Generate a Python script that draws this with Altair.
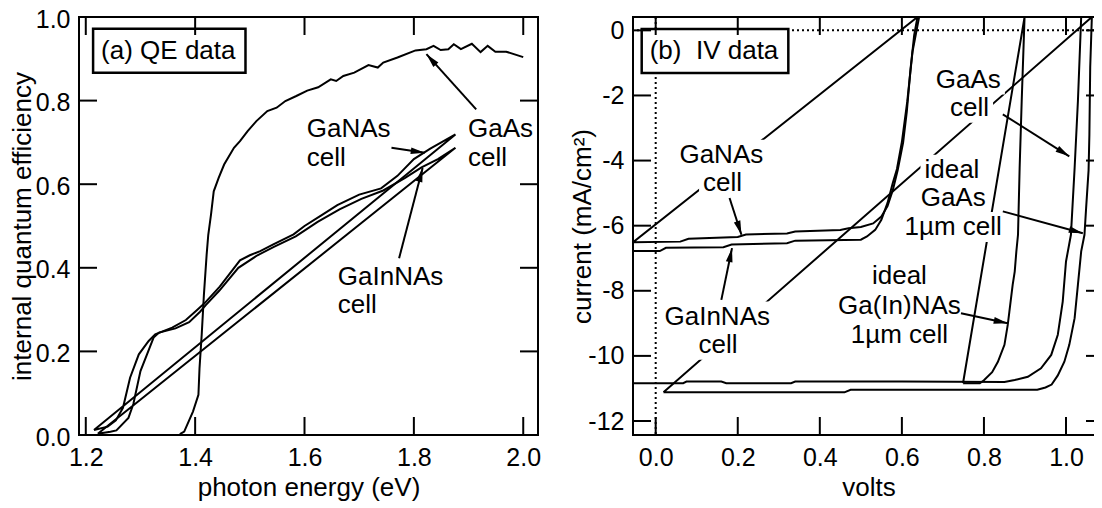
import math
import altair as alt
import pandas as pd

FONT = "Liberation Sans"
FS = 26

# ---------------- panel (a): QE data ----------------
gaas_qe_e = [1.372, 1.380, 1.396, 1.406, 1.408, 1.412, 1.416, 1.421, 1.424, 1.429, 1.434, 1.443,
             1.453, 1.471, 1.482, 1.496, 1.512, 1.532, 1.549, 1.565, 1.585, 1.605, 1.625, 1.648,
             1.658, 1.671, 1.691, 1.717, 1.734, 1.744, 1.770, 1.803, 1.823, 1.836, 1.849, 1.863,
             1.873, 1.886, 1.906, 1.922, 1.935, 1.949, 1.969, 2.000]
gaas_qe_q = [0.002, 0.008, 0.056, 0.096, 0.160, 0.240, 0.335, 0.431, 0.479, 0.527, 0.583, 0.615,
             0.647, 0.687, 0.703, 0.727, 0.751, 0.775, 0.783, 0.799, 0.811, 0.824, 0.832, 0.851,
             0.847, 0.859, 0.867, 0.885, 0.879, 0.891, 0.903, 0.920, 0.923, 0.931, 0.921, 0.923,
             0.935, 0.923, 0.936, 0.916, 0.931, 0.917, 0.917, 0.904]

ganas_qe_e = [1.215, 1.240, 1.255, 1.268, 1.281, 1.297, 1.315, 1.327, 1.358, 1.383, 1.402, 1.417,
              1.445, 1.482, 1.500, 1.519, 1.543, 1.580, 1.600, 1.630, 1.660, 1.700, 1.740, 1.770,
              1.800, 1.830, 1.876]
ganas_qe_q = [0.012, 0.020, 0.035, 0.065, 0.137, 0.193, 0.225, 0.241, 0.257, 0.275, 0.297, 0.315,
              0.355, 0.418, 0.430, 0.440, 0.456, 0.480, 0.500, 0.525, 0.550, 0.575, 0.590, 0.620,
              0.660, 0.685, 0.719]

gainnas_qe_e = [1.222, 1.245, 1.256, 1.278, 1.287, 1.300, 1.312, 1.324, 1.334, 1.364, 1.389, 1.409,
                1.419, 1.444, 1.479, 1.514, 1.544, 1.584, 1.624, 1.664, 1.704, 1.744, 1.784, 1.814,
                1.844, 1.876]
gainnas_qe_q = [0.003, 0.008, 0.011, 0.041, 0.074, 0.153, 0.193, 0.233, 0.245, 0.255, 0.270, 0.295,
                0.310, 0.345, 0.400, 0.430, 0.450, 0.475, 0.510, 0.540, 0.565, 0.585, 0.615, 0.640,
                0.660, 0.687]

# ---------------- panel (b): IV data ----------------
ganas_iv_v = [-0.055, 0.06, 0.08, 0.20, 0.22, 0.32, 0.34, 0.45, 0.47, 0.50, 0.53, 0.55, 0.565,
              0.578, 0.59, 0.603, 0.612, 0.621, 0.63, 0.638]
ganas_iv_i = [-6.51, -6.49, -6.40, -6.35, -6.27, -6.24, -6.18, -6.13, -6.08, -6.04, -5.93, -5.72,
              -5.40, -4.90, -4.28, -3.45, -2.50, -1.20, -0.15, 0.41]

gainnas_iv_v = [-0.055, 0.01, 0.025, 0.165, 0.185, 0.32, 0.34, 0.50, 0.515, 0.535, 0.55, 0.565,
                0.578, 0.588, 0.60, 0.613, 0.626, 0.642]
gainnas_iv_i = [-6.78, -6.78, -6.68, -6.66, -6.58, -6.54, -6.46, -6.43, -6.33, -6.13, -5.82, -5.30,
                -4.68, -4.26, -3.43, -2.20, -0.65, 0.41]

gaas_iv_v = [-0.055, 0.067, 0.075, 0.16, 0.172, 0.33, 0.34, 0.60, 0.85, 0.875, 0.907, 0.939, 0.964,
             0.980, 0.992, 1.000, 1.012, 1.021, 1.029, 1.037]
gaas_iv_i = [-10.84, -10.84, -10.79, -10.79, -10.84, -10.84, -10.79, -10.79, -10.80, -10.74,
             -10.64, -10.38, -9.97, -9.35, -8.33, -7.10, -6.28, -4.23, -2.18, 0.41]

ideal_gaas_v = [0.019, 0.46, 0.475, 0.93, 0.95, 0.965, 0.98, 0.996, 1.008, 1.021, 1.029, 1.037,
                1.045, 1.049, 1.055, 1.057, 1.059, 1.063]
ideal_gaas_i = [-11.12, -11.12, -11.04, -11.04, -10.97, -10.88, -10.60, -10.18, -9.66, -8.84,
                -7.82, -6.79, -6.28, -5.46, -4.30, -3.20, -1.13, 0.41]

ideal_gainnas_v = [0.749, 0.79, 0.80, 0.82, 0.834, 0.85, 0.858, 0.862, 0.87, 0.875, 0.879, 0.883,
                   0.887, 0.892, 0.899]
ideal_gainnas_i = [-10.84, -10.84, -10.75, -10.50, -10.18, -9.66, -9.05, -8.64, -7.82, -7.41,
                   -6.79, -6.28, -4.23, -2.18, 0.41]

# ---------------- annotations ----------------
l_lab_text = ["GaNAs", "cell", "GaAs", "cell", "GaInNAs", "cell"]
l_lab_x = [1.604, 1.604, 1.899, 1.899, 1.661, 1.661]
l_lab_y = [0.731, 0.663, 0.731, 0.663, 0.379, 0.311]

l_arr_x1 = [1.759, 1.914, 1.773]
l_arr_y1 = [0.687, 0.779, 0.423]
l_arr_x2 = [1.820, 1.823, 1.816]
l_arr_y2 = [0.675, 0.911, 0.639]

r_lab_text = ["GaNAs", "cell", "GaInNAs", "cell", "GaAs", "cell", "ideal", "GaAs", "1µm cell",
              "ideal", "Ga(In)NAs", "1µm cell"]
r_lab_x = [0.160, 0.163, 0.150, 0.152, 0.762, 0.765, 0.722, 0.725, 0.725, 0.594, 0.594, 0.594]
r_lab_y = [-3.82, -4.69, -8.79, -9.66, -1.51, -2.38, -4.28, -5.16, -6.04, -7.56, -8.48, -9.35]

r_arr_x1 = [0.180, 0.160, 0.846, 0.846, 0.744]
r_arr_y1 = [-5.15, -8.28, -2.58, -5.56, -8.69]
r_arr_x2 = [0.209, 0.186, 1.008, 1.041, 0.858]
r_arr_y2 = [-6.28, -6.69, -3.87, -6.23, -9.00]

panel_a_title = "(a) QE data"
panel_a_pos = (1.228, 0.919)
panel_b_title = "(b)\u00a0 IV data"
panel_b_pos = (-0.0146, -0.637)

l_xticks = [1.2, 1.4, 1.6, 1.8, 2.0]
l_yticks = [0.0, 0.2, 0.4, 0.6, 0.8, 1.0]
r_xticks = [0.0, 0.2, 0.4, 0.6, 0.8, 1.0]
r_yticks = [-12, -10, -8, -6, -4, -2, 0]

# ---------------- layout ----------------
LX = [1.1876, 2.027]
LY = [0.0, 1.0]
RX = [-0.0553, 1.0926]
RY = [-12.43, 0.41]
LW, RW, H = 459, 471, 418
TICK = 18

# Arial-metric character widths (em)
CW = {"G": .778, "a": .556, "N": .722, "A": .667, "s": .5, "c": .5, "e": .556, "l": .222,
      "I": .278, "n": .556, "i": .222, "d": .556, "(": .333, ")": .333, "µ": .577, "m": .833,
      "1": .556, " ": .278, "\u00a0": .278, "b": .556, "Q": .778, "E": .667, "V": .667,
      "t": .278}


def text_w(t):
    return FS * sum(CW.get(c, 0.55) for c in t)


def lines_df(series):
    rows = []
    for name, xs, ys, closed in series:
        xs2 = list(xs) + ([xs[0]] if closed else [])
        ys2 = list(ys) + ([ys[0]] if closed else [])
        for k, (a, b) in enumerate(zip(xs2, ys2)):
            rows.append({"x": a, "y": b, "s": name, "i": k})
    return pd.DataFrame(rows)


def arrow_df(x1, y1, x2, y2, kx, ky):
    rows = []
    for a, b, c, d in zip(x1, y1, x2, y2):
        dx = (c - a) * kx
        dy = -(d - b) * ky
        ang = math.degrees(math.atan2(dx, -dy)) % 360
        rows.append({"x": a, "y": b, "x2": c, "y2": d, "hx": c, "hy": d, "ang": ang})
    return pd.DataFrame(rows)


ARROW = "M0,0L-0.55,2.3L0.55,2.3Z"


def panel(xd, yd, w, xticks, yticks, xfmt, yexpr, xtitle, ytitle, ytpad, yloff,
          curves, lab_text, lab_x, lab_y, lab_align, masks,
          ax1, ay1, ax2, ay2, box_text, box_pos, dotted):
    kx = w / (xd[1] - xd[0])
    ky = H / (yd[1] - yd[0])
    axx = alt.Axis(values=xticks, format=xfmt, ticks=False, domain=False, grid=False,
                   labelFontSize=25, titleFontSize=FS, labelFont=FONT, titleFont=FONT,
                   labelColor="black", titleColor="black", labelPadding=10, titlePadding=4,
                   titleFontWeight="normal", labelFlush=False, labelOverlap=False, title=xtitle)
    yargs = dict(values=yticks, ticks=False, domain=False, grid=False,
                 labelFontSize=25, titleFontSize=FS, labelFont=FONT, titleFont=FONT,
                 labelColor="black", titleColor="black", labelPadding=9, titlePadding=ytpad,
                 labelOffset=yloff,
                 titleFontWeight="normal", labelFlush=False, labelOverlap=False, title=ytitle)
    if yexpr:
        yargs["labelExpr"] = yexpr
    else:
        yargs["format"] = ".1f"
    axy = alt.Axis(**yargs)
    sx = alt.Scale(domain=xd, nice=False, zero=False)
    sy = alt.Scale(domain=yd, nice=False, zero=False)
    X = lambda f: alt.X(f + ":Q", scale=sx, axis=axx)
    Y = lambda f: alt.Y(f + ":Q", scale=sy, axis=axy)

    layers = []
    if dotted:
        dz = pd.DataFrame({"x": [0.0], "y": [0.0]})
        layers.append(alt.Chart(dz).mark_rule(color="black", strokeWidth=2, strokeDash=[2, 3])
                      .encode(x=X("x")))
        layers.append(alt.Chart(dz).mark_rule(color="black", strokeWidth=2, strokeDash=[2, 3])
                      .encode(y=Y("y")))

    ld = lines_df(curves)
    layers.append(alt.Chart(ld).mark_line(color="black", strokeWidth=2, clip=True,
                                          strokeJoin="miter")
                  .encode(x=X("x"), y=Y("y"), detail="s:N", order="i:Q"))

    # white masks behind labels
    if masks:
        mrows = []
        for t, a, b in zip(lab_text, lab_x, lab_y):
            hw = (text_w(t) / 2 + 4) / kx
            hh = 15 / ky
            if lab_align == "left":
                x0, x1 = a - 4 / kx, a + (text_w(t) + 4) / kx
            else:
                x0, x1 = a - hw, a + hw
            mrows.append({"x": x0, "x2": x1, "y": b - hh, "y2": b + hh})
        layers.append(alt.Chart(pd.DataFrame(mrows)).mark_rect(color="white")
                      .encode(x=X("x"), x2="x2:Q", y=Y("y"), y2="y2:Q"))

    tdf = pd.DataFrame({"x": lab_x, "y": lab_y, "t": lab_text})
    layers.append(alt.Chart(tdf).mark_text(font=FONT, fontSize=FS, align=lab_align,
                                           baseline="middle", color="black")
                  .encode(x=X("x"), y=Y("y"), text="t:N"))

    adf = arrow_df(ax1, ay1, ax2, ay2, kx, ky)
    layers.append(alt.Chart(adf).mark_rule(color="black", strokeWidth=2)
                  .encode(x=X("x"), y=Y("y"), x2="x2:Q", y2="y2:Q"))
    layers.append(alt.Chart(adf).mark_point(shape=ARROW, filled=True, color="black", size=150,
                                            opacity=1, strokeWidth=0)
                  .encode(x=X("hx"), y=Y("hy"), angle=alt.Angle("ang:Q", scale=None)))

    # boxed panel title
    bx, by = box_pos
    bw = text_w(box_text)
    bdf = pd.DataFrame({"x": [bx - 8 / kx], "x2": [bx + (bw + 10) / kx],
                        "y": [by - 22 / ky], "y2": [by + 22 / ky]})
    layers.append(alt.Chart(bdf).mark_rect(fill="white", stroke="black", strokeWidth=2.5)
                  .encode(x=X("x"), x2="x2:Q", y=Y("y"), y2="y2:Q"))
    layers.append(alt.Chart(pd.DataFrame({"x": [bx], "y": [by], "t": [box_text]}))
                  .mark_text(font=FONT, fontSize=FS, align="left", baseline="middle",
                             color="black")
                  .encode(x=X("x"), y=Y("y"), text="t:N"))

    # inward ticks on all four sides
    xt = pd.DataFrame({"x": xticks})
    yt = pd.DataFrame({"y": yticks})
    layers.append(alt.Chart(xt).mark_rule(color="black", strokeWidth=2)
                  .encode(x=X("x"), y=alt.value(H), y2=alt.value(H - TICK)))
    layers.append(alt.Chart(xt).mark_rule(color="black", strokeWidth=2)
                  .encode(x=X("x"), y=alt.value(0), y2=alt.value(TICK)))
    layers.append(alt.Chart(yt).mark_rule(color="black", strokeWidth=2)
                  .encode(y=Y("y"), x=alt.value(0), x2=alt.value(TICK)))
    layers.append(alt.Chart(yt).mark_rule(color="black", strokeWidth=2)
                  .encode(y=Y("y"), x=alt.value(w), x2=alt.value(w - TICK)))

    return alt.layer(*layers).properties(width=w, height=H)


left = panel(LX, LY, LW, l_xticks, l_yticks, ".1f", None,
             "photon energy (eV)", "internal quantum efficiency", 0, 2,
             [("gaas", gaas_qe_e, gaas_qe_q, False),
              ("ganas", ganas_qe_e, ganas_qe_q, True),
              ("gainnas", gainnas_qe_e, gainnas_qe_q, True)],
             l_lab_text, l_lab_x, l_lab_y, "left", False,
             l_arr_x1, l_arr_y1, l_arr_x2, l_arr_y2, panel_a_title, panel_a_pos, False)

right = panel(RX, RY, RW, r_xticks, r_yticks, ".1f", "'' + datum.value",
              "volts", "current (mA/cm²)", -8, 0,
              [("ganas", ganas_iv_v, ganas_iv_i, True),
               ("gainnas", gainnas_iv_v, gainnas_iv_i, False),
               ("gaas", gaas_iv_v, gaas_iv_i, False),
               ("ideal_gaas", ideal_gaas_v, ideal_gaas_i, True),
               ("ideal_gainnas", ideal_gainnas_v, ideal_gainnas_i, True)],
              r_lab_text, r_lab_x, r_lab_y, "center", True,
              r_arr_x1, r_arr_y1, r_arr_x2, r_arr_y2, panel_b_title, panel_b_pos, True)

chart = (alt.hconcat(left, right, spacing=95, bounds="flush")
         .properties(padding={"left": 0, "top": -2, "right": -12, "bottom": 0},
                     background="white")
         .configure_view(stroke="black", strokeWidth=2))

chart.save("out.html", embed_options={"renderer": "svg", "actions": False})
